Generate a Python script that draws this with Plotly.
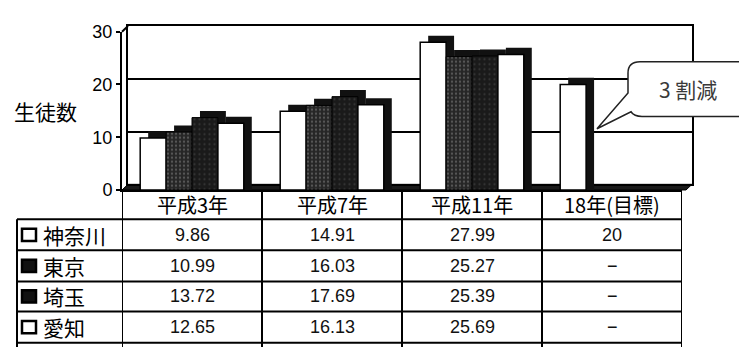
import plotly.graph_objects as go

# ---------------- data ----------------
categories = ["平成3年", "平成7年", "平成11年", "18年(目標)"]
series_names = ["神奈川", "東京", "埼玉", "愛知"]
kanagawa = [9.86, 14.91, 27.99, 20]
tokyo = [10.99, 16.03, 25.27, None]
saitama = [13.72, 17.69, 25.39, None]
aichi = [12.65, 16.13, 25.69, None]
series_values = [kanagawa, tokyo, saitama, aichi]
y_ticks = [0, 10, 20, 30]
y_title = "生徒数"
callout_text = "3 割減"

# ---------------- styling / layout helpers ----------------
W, H = 739, 347
def px(x):
    return x / W
def py(y):
    return 1 - y / H

CJK = "Noto Sans CJK JP"
LAT = "Liberation Sans, Arial, Noto Sans CJK JP"

front_styles = [
    dict(color="white", line=dict(color="black", width=1.5)),
    dict(color="#2c2c2c", line=dict(color="black", width=1),
         pattern=dict(shape=".", bgcolor="#262626", fgcolor="#8a8a8a", size=4, solidity=0.25)),
    dict(color="#1a1a1a", line=dict(color="black", width=1),
         pattern=dict(shape=".", bgcolor="#1a1a1a", fgcolor="#555555", size=5, solidity=0.15)),
    dict(color="white", line=dict(color="black", width=1.5)),
]
key_colors = ["white", "#111111", "#111111", "white"]

bar_w = 0.185
first_off = -0.37
dx = 0.057   # depth offset in category units
dy = 1.25    # depth offset in value units

fig = go.Figure()
# dummy trace for back-wall subplot
fig.add_scatter(x=[None], y=[None], xaxis="x", yaxis="y", showlegend=False, hoverinfo="skip")

for i, (name, vals) in enumerate(zip(series_names, series_values)):
    off = first_off + i * bar_w
    shadow = [None if v is None else v + dy for v in vals]
    fig.add_bar(x=categories, y=shadow, width=bar_w, offset=off + dx,
                marker=dict(color="#111111", line=dict(width=0)),
                xaxis="x2", yaxis="y2", showlegend=False, hoverinfo="skip")
    fig.add_bar(x=categories, y=vals, width=bar_w, offset=off,
                marker=front_styles[i], name=name,
                xaxis="x2", yaxis="y2", showlegend=False)

shapes = []
annotations = []

# floor of the 3D box
shapes.append(dict(type="path", xref="paper", yref="paper", layer="below",
                   path=f"M {px(122)},{py(191)} L {px(128)},{py(185)} L {px(692)},{py(185)} L {px(686)},{py(191)} Z",
                   fillcolor="#1a1a1a", line=dict(color="black", width=1)))
# top-left depth edge
shapes.append(dict(type="line", xref="paper", yref="paper",
                   x0=px(122), y0=py(23), x1=px(128), y1=py(17),
                   line=dict(color="black", width=2)))

# ---------------- table ----------------
header_top = 191
row_lines = [222, 255, 288, 320, 353]
label_left = 17
for k in range(len(categories) + 1):
    shapes.append(dict(type="line", xref="x2", yref="paper",
                       x0=k - 0.5, x1=k - 0.5, y0=py(header_top), y1=py(370),
                       line=dict(color="black", width=2)))
shapes.append(dict(type="line", xref="paper", yref="paper",
                   x0=px(label_left), x1=px(label_left), y0=py(row_lines[0]), y1=py(370),
                   line=dict(color="black", width=2)))
for yl in row_lines:
    shapes.append(dict(type="line", xref="paper", yref="paper",
                       x0=px(label_left), x1=px(682), y0=py(yl), y1=py(yl),
                       line=dict(color="black", width=2)))

# header labels
for c in categories:
    annotations.append(dict(x=c, xref="x2", y=py((header_top + row_lines[0]) / 2), yref="paper",
                            text=c, showarrow=False, font=dict(family=CJK, size=20, color="black"),
                            xanchor="center", yanchor="middle"))

# rows
for r, (name, vals) in enumerate(zip(series_names, series_values)):
    top, bot = row_lines[r], row_lines[r + 1]
    yc = (top + bot) / 2
    shapes.append(dict(type="rect", xref="paper", yref="paper",
                       x0=px(22), x1=px(36), y0=py(yc + 6.5), y1=py(yc - 6.5),
                       fillcolor=key_colors[r], line=dict(color="black", width=2.5)))
    annotations.append(dict(x=px(41), xref="paper", y=py(yc), yref="paper", text=name,
                            showarrow=False, xanchor="left", yanchor="middle",
                            font=dict(family=CJK, size=21, color="black")))
    for c, v in zip(categories, vals):
        txt = "−" if v is None else f"{v:g}"
        annotations.append(dict(x=c, xref="x2", y=py(yc), yref="paper", text=txt,
                                showarrow=False, xanchor="center", yanchor="middle",
                                font=dict(family=LAT, size=18, color="#111111")))

# y title
annotations.append(dict(x=px(45), xref="paper", y=py(107), yref="paper", text=y_title,
                        showarrow=False, xanchor="center", yanchor="middle",
                        font=dict(family=CJK, size=21, color="black")))

# callout
callout_path = (f"M {px(640)},{py(55)} L {px(750)},{py(55)} L {px(750)},{py(113)} "
                f"L {px(642)},{py(113)} Q {px(634)},{py(113)} {px(631)},{py(108)} "
                f"L {px(597)},{py(126)} L {px(628)},{py(88)} L {px(628)},{py(67)} "
                f"Q {px(628)},{py(55)} {px(640)},{py(55)} Z")
shapes.append(dict(type="path", xref="paper", yref="paper", path=callout_path,
                   fillcolor="white", line=dict(color="#222222", width=1.5), layer="above"))
annotations.append(dict(x=px(688), xref="paper", y=py(84), yref="paper", text=callout_text,
                        showarrow=False, xanchor="center", yanchor="middle",
                        font=dict(family=CJK, size=21, color="#3a3a3a")))

fig.update_layout(
    width=W, height=H,
    margin=dict(l=0, r=0, t=0, b=0),
    paper_bgcolor="white",
    plot_bgcolor="rgba(0,0,0,0)",
    barmode="overlay",
    showlegend=False,
    shapes=shapes,
    annotations=annotations,
    xaxis=dict(domain=[px(128), px(692)], range=[0, 1], anchor="y",
               showline=True, mirror=True, linecolor="black", linewidth=2,
               showgrid=False, zeroline=False, showticklabels=False, ticks=""),
    yaxis=dict(domain=[py(185), py(17)], range=[0, 30], anchor="x",
               showline=True, mirror=True, linecolor="black", linewidth=2,
               showgrid=True, gridcolor="black", gridwidth=1.5, tickvals=y_ticks,
               zeroline=False, showticklabels=False, ticks=""),
    xaxis2=dict(domain=[px(122), px(682)], range=[-0.5, 3.5], anchor="y2",
                type="category", categoryorder="array", categoryarray=categories,
                showline=True, linecolor="black", linewidth=2,
                showgrid=False, zeroline=False, showticklabels=False, ticks=""),
    yaxis2=dict(domain=[py(191), py(23)], range=[0, 30], anchor="x2",
                tickvals=y_ticks, ticks="outside", ticklen=4, tickcolor="black", tickwidth=1.5,
                showline=True, linecolor="black", linewidth=2,
                showgrid=False, zeroline=False,
                tickfont=dict(family=LAT, size=18, color="black")),
)

fig.write_html("out.html")
